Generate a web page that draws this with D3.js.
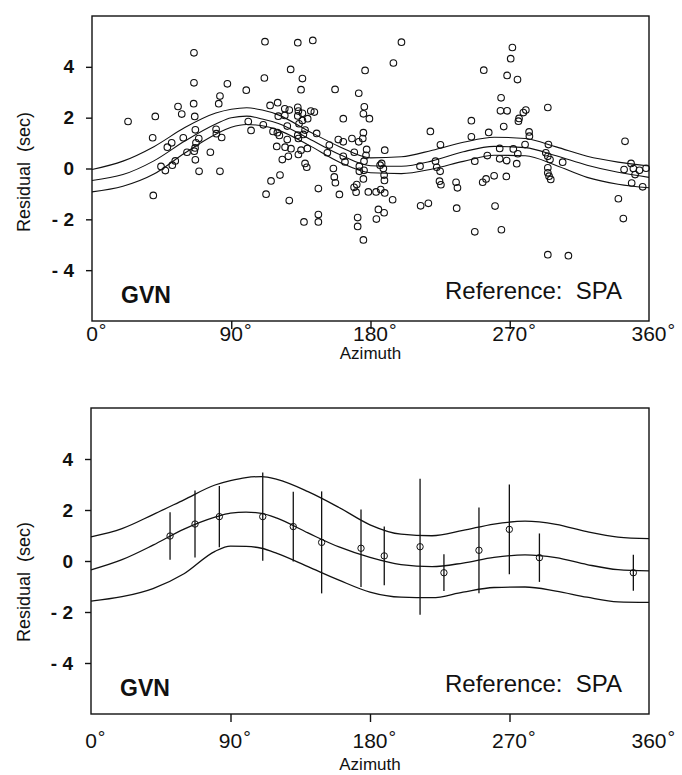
<!DOCTYPE html>
<html>
<head>
<meta charset="utf-8">
<script src="https://cdn.jsdelivr.net/npm/d3@7"></script>
<style>
  body { margin: 0; background: #fff; }
  svg text { font-family: "Liberation Sans", Arial, Helvetica, sans-serif; fill: #111; }
</style>
</head>
<body>
<svg id="chart" width="682" height="775"></svg>
<script>
// axis ticks
var azTicks = [0, 90, 180, 270, 360];
var resTicks = [-4, -2, 0, 2, 4];

var curveAz = [0, 20, 40, 60, 80, 90, 100, 110, 120, 140, 160, 180, 200, 220, 240, 260, 280, 300, 320, 340, 360];

// top panel: fit and its band
var topMid   = [-0.47, -0.24, 0.30, 1.08, 1.75, 2.00, 2.06, 1.95, 1.78, 1.18, 0.55, 0.11, 0.09, 0.30, 0.66, 0.87, 0.82, 0.50, 0.13, -0.15, -0.35];
var topUpper = [-0.04, 0.29, 0.86, 1.61, 2.18, 2.33, 2.39, 2.30, 2.12, 1.47, 0.86, 0.42, 0.46, 0.72, 1.03, 1.23, 1.18, 0.85, 0.48, 0.25, 0.10];
var topLower = [-0.92, -0.70, -0.22, 0.61, 1.35, 1.62, 1.73, 1.68, 1.52, 0.92, 0.25, -0.17, -0.20, -0.02, 0.28, 0.52, 0.50, 0.12, -0.35, -0.62, -0.76];

// top panel: single residuals [azimuth, residual]
var topEvents = [
  [65.9,4.55],[65.9,3.37],[87.5,3.33],[82.7,2.85],[81.9,2.55],[55.6,2.44],[65.7,2.55],[58,2.14],[40.9,2.05],[23.3,1.85],
  [66.4,2.05],[66.8,1.52],[80.2,1.54],[80.4,1.37],[83.8,1.22],[39.2,1.21],[59,1.21],[51.5,1.01],[69,1.18],[48.7,0.84],
  [67.2,1.01],[66.6,0.81],[66.1,0.68],[61.4,0.64],[76.5,0.64],[66.8,0.34],[53.8,0.30],[51.9,0.13],[44.6,0.08],[47.4,-0.08],
  [69.2,-0.11],[82.7,-0.11],[39.6,-1.06],
  [111.8,4.99],[133,4.95],[142.7,5.04],[128.4,3.9],[111.4,3.56],[136,3.54],[135.1,3.10],[99.7,3.08],[157.1,3.11],[172.4,2.96],
  [176.5,3.86],[115.1,2.48],[120,2.59],[124.6,2.35],[127.5,2.30],[133,2.41],[133.4,2.26],[136,2.17],[141.4,2.26],[143.7,2.22],
  [120.4,2.06],[124.6,2.09],[133,2.07],[139.4,1.96],[136,1.89],[133.8,1.76],[126.2,1.67],[137.7,1.51],[136.6,1.34],[133,1.31],
  [145.2,1.38],[117,1.46],[119.8,1.41],[121.1,1.30],[110.7,1.72],[101,1.85],[102.8,1.50],[126.2,1.14],[133.4,1.18],[119.4,0.87],
  [124.8,0.84],[128.6,0.78],[135.1,0.72],[139.2,0.79],[133.4,0.55],[126.9,0.48],[123,0.35],[137.7,0.20],[138.8,0.05],[153.4,0.92],
  [152.1,0.62],[159.2,1.14],[162.4,1.05],[162.4,1.96],[168,1.18],[172.4,1.05],[175.4,1.41],[175,1.18],[176,2.43],[175.4,2.15],
  [179.3,1.96],[169.5,0.64],[177.5,0.75],[177.1,0.52],[162.4,0.48],[163.5,0.26],[175.8,0.29],[172.8,0.09],[172.8,-0.11],[175.8,-0.07],
  [175.4,-0.41],[171.1,-0.63],[169.4,-0.74],[170.7,-0.93],[178.6,-0.92],[156,0.0],[156.6,-0.33],[157.3,-0.56],[159.9,-1.02],[146.3,-0.79],
  [121.5,-0.26],[115.7,-0.49],[112.5,-1.01],[127.5,-1.26],[137,-2.10],[146.3,-1.81],[146.3,-2.10],[171.7,-1.93],[171.7,-2.28],[175.4,-2.81],
  [200,4.97],[194.8,4.15],[253.2,3.87],[268.3,3.66],[271.7,4.76],[270.6,4.32],[275,3.5],[264.4,2.78],[264,2.27],[268.3,2.27],
  [266.1,1.65],[245.2,1.88],[245.2,1.25],[256.4,1.42],[218.7,1.46],[225.2,0.93],[189.2,0.72],[187.2,0.20],[188.3,0.0],[188.8,-0.26],
  [189,-0.47],[186.2,0.13],[212,0.09],[222,0.29],[222.8,0.05],[225,-0.11],[224.6,-0.50],[225.5,-0.64],[235.3,-0.54],[236.2,-0.76],
  [247.4,0.29],[255.5,0.51],[263.5,0.79],[263.5,0.38],[268,0.31],[259.9,-0.29],[267.8,-0.31],[254.7,-0.41],[252.5,-0.54],[183.6,-0.92],
  [186.6,-0.83],[189.2,-0.96],[194.3,-1.23],[185.1,-1.61],[188.8,-1.74],[183.8,-1.99],[212.4,-1.47],[217.4,-1.37],[235.7,-1.56],[260.5,-1.48],
  [247.4,-2.49],[264.6,-2.41],
  [280.4,2.30],[278.8,2.20],[276,1.97],[275.6,1.86],[294.6,2.40],[282.5,1.44],[282.7,1.27],[279.9,0.94],[272.3,0.77],[275.2,0.58],
  [274.5,0.19],[295,0.94],[293.3,0.62],[294.6,0.48],[296,0.35],[304.2,0.25],[294.6,0.03],[294.6,-0.17],[295.4,-0.30],[296.5,-0.43],
  [294.6,-3.39],[307.9,-3.43],[344.5,1.07],[348.4,0.20],[343.9,-0.04],[349.9,0.0],[351,-0.24],[353.8,-0.07],[358.1,0.01],[348.8,-0.57],
  [355.9,-0.72],[340.2,-1.19],[343.4,-1.97]
];

// bottom panel: fit and its band
var botMid   = [-0.35, 0.05, 0.62, 1.25, 1.72, 1.88, 1.92, 1.87, 1.68, 1.10, 0.55, 0.14, -0.14, -0.22, -0.08, 0.14, 0.24, 0.13, -0.14, -0.34, -0.39];
var botUpper = [0.95, 1.27, 1.82, 2.40, 2.98, 3.15, 3.27, 3.31, 3.20, 2.72, 2.10, 1.42, 1.05, 0.99, 1.20, 1.45, 1.56, 1.44, 1.15, 0.94, 0.88];
var botLower = [-1.57, -1.40, -1.08, -0.50, 0.38, 0.58, 0.57, 0.50, 0.30, -0.22, -0.75, -1.22, -1.42, -1.44, -1.22, -1.04, -1.02, -1.18, -1.42, -1.60, -1.62];

// bottom panel: binned means and their error bars
var binAz  = [51, 67.1, 82.8, 110.8, 130.5, 148.8, 174.2, 189.2, 212.3, 227.7, 250.3, 269.9, 289.3, 349.9];
var binRes = [0.98, 1.45, 1.74, 1.74, 1.35, 0.73, 0.50, 0.20, 0.56, -0.46, 0.42, 1.24, 0.13, -0.46];
var binErr = [0.93, 1.31, 1.20, 1.73, 1.37, 2.00, 1.52, 1.15, 2.67, 0.72, 1.68, 1.76, 0.95, 0.71];

var svg = d3.select("#chart");
var ink = "#111";

function drawPanel(p) {
  var x = d3.scaleLinear().domain([0, 360]).range([p.left, p.right]);
  var y = d3.scaleLinear().domain([-6, 6]).range([p.bottom, p.top]);
  var g = svg.append("g");

  // y axis, outward ticks
  var yAxis = d3.axisLeft(y)
      .tickValues(resTicks)
      .tickSize(6)
      .tickPadding(12)
      .tickFormat(function(d) { return d < 0 ? "-\u00a0" + Math.abs(d) : d; });
  var ya = g.append("g").attr("transform", "translate(" + p.left + ",0)").call(yAxis);
  ya.select(".domain").remove();
  ya.selectAll("line").attr("stroke", ink).attr("stroke-width", 1.4);
  ya.selectAll("text")
      .attr("font-size", 19).attr("font-weight", "bold")
      .style("font-family", "'Liberation Sans', Arial, sans-serif")
      .attr("fill", ink);

  // x axis: tick marks only at the inner angles
  var xAxis = d3.axisBottom(x).tickValues(azTicks.slice(1, 4)).tickSize(8).tickFormat("");
  var xa = g.append("g").attr("transform", "translate(0," + p.bottom + ")").call(xAxis);
  xa.select(".domain").remove();
  xa.selectAll("line").attr("stroke", ink).attr("stroke-width", 1.4);

  // x tick labels, number centred on the tick and a raised degree sign after it
  azTicks.forEach(function(d) {
    var t = g.append("text")
        .attr("x", x(d)).attr("y", p.bottom + p.labelDy)
        .attr("text-anchor", "middle")
        .attr("font-size", 21)
        .text(d);
    var w = t.node().getComputedTextLength();
    g.append("text")
        .attr("x", x(d) + w / 2 + 1).attr("y", p.bottom + p.labelDy - 4)
        .attr("font-size", 19)
        .text("\u00b0");
  });

  g.append("text")
      .attr("x", (p.left + p.right) / 2).attr("y", p.bottom + p.titleDy)
      .attr("text-anchor", "middle")
      .attr("font-size", 17)
      .text("Azimuth");

  g.append("text")
      .attr("transform", "translate(" + 30 + "," + p.yTitleY + ") rotate(-90)")
      .attr("text-anchor", "middle")
      .attr("font-size", 18)
      .text("Residual\u00a0\u00a0(sec)");

  // fitted curve and band
  var line = d3.line()
      .curve(d3.curveMonotoneX)
      .x(function(d, i) { return x(curveAz[i]); })
      .y(function(d) { return y(d); });
  [p.upper, p.mid, p.lower].forEach(function(s) {
    g.append("path")
        .attr("d", line(s))
        .attr("fill", "none")
        .attr("stroke", ink)
        .attr("stroke-width", p.curveWidth);
  });

  if (p.events) {
    g.selectAll(".ev")
        .data(p.events)
        .enter().append("circle")
        .attr("class", "ev")
        .attr("cx", function(d) { return x(d[0]); })
        .attr("cy", function(d) { return y(d[1]); })
        .attr("r", 3.3)
        .attr("fill", "none")
        .attr("stroke", ink)
        .attr("stroke-width", 1.1);
  }

  if (p.bins) {
    g.selectAll(".bin")
        .data(binAz)
        .enter().append("circle")
        .attr("class", "bin")
        .attr("cx", function(d) { return x(d); })
        .attr("cy", function(d, i) { return y(binRes[i]); })
        .attr("r", 3.2)
        .attr("fill", "none")
        .attr("stroke", ink)
        .attr("stroke-width", 1);
    g.selectAll(".err")
        .data(binAz)
        .enter().append("line")
        .attr("class", "err")
        .attr("x1", function(d) { return x(d); })
        .attr("x2", function(d) { return x(d); })
        .attr("y1", function(d, i) { return y(binRes[i] + binErr[i]); })
        .attr("y2", function(d, i) { return y(binRes[i] - binErr[i]); })
        .attr("stroke", ink)
        .attr("stroke-width", 1.3);
  }

  // frame
  g.append("rect")
      .attr("x", p.left).attr("y", p.top)
      .attr("width", p.right - p.left).attr("height", p.bottom - p.top)
      .attr("fill", "none")
      .attr("stroke", ink)
      .attr("stroke-width", 1.4);

  g.append("text")
      .attr("x", p.left + 29).attr("y", y(-5.3))
      .attr("font-size", 23).attr("font-weight", "bold")
      .text("GVN");
  g.append("text")
      .attr("x", p.right - 27).attr("y", y(-5.15))
      .attr("text-anchor", "end")
      .attr("font-size", 24)
      .text("Reference:\u00a0\u00a0SPA");
}

drawPanel({
  left: 92, right: 649, top: 16, bottom: 321,
  labelDy: 20, titleDy: 38, yTitleY: 172,
  mid: topMid, upper: topUpper, lower: topLower,
  curveWidth: 1.1, events: topEvents
});

drawPanel({
  left: 91, right: 649, top: 408, bottom: 714,
  labelDy: 34, titleDy: 56, yTitleY: 582,
  mid: botMid, upper: botUpper, lower: botLower,
  curveWidth: 1.3, bins: true
});
</script>
</body>
</html>
